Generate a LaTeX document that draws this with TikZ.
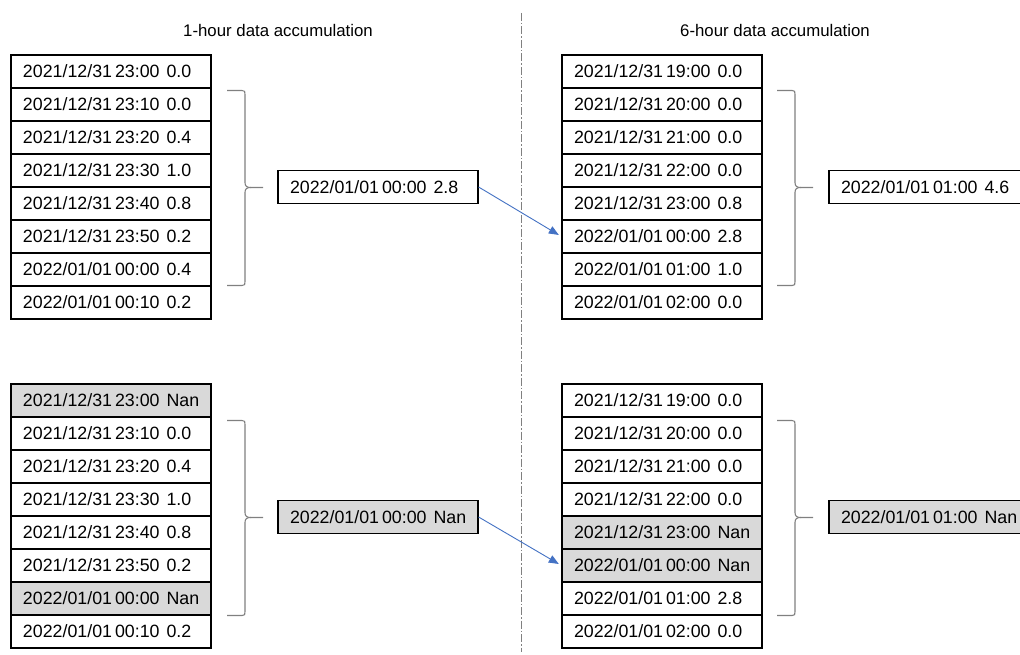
\documentclass[tikz,border=0pt]{standalone}
\usepackage{fontspec}
\setmainfont{Liberation Sans}
\usetikzlibrary{arrows.meta}
\definecolor{nangray}{HTML}{D9D9D9}
\definecolor{bracegray}{HTML}{808080}
\definecolor{arrowblue}{HTML}{4472C4}
\newcommand\dt[3]{\mbox{#1\hspace{3pt}#2\hspace{7pt}#3}}
\tikzset{
  cell/.style={draw=black, line width=1.2pt, minimum height=33pt, text width=176pt,
    inner xsep=12pt, inner ysep=0pt, align=left, font=\fontsize{17.8}{20}\selectfont},
  nan/.style={fill=nangray},
  title/.style={font=\fontsize{16.8}{20}\selectfont, inner sep=0pt},
  bracestyle/.style={draw=bracegray, line width=1.1pt},
  flow/.style={draw=arrowblue, line width=0.9pt, -{Triangle[length=10pt,width=8pt]}, shorten >=3pt},
  divider/.style={draw=bracegray, line width=1pt, dash pattern=on 8pt off 2pt on 1.5pt off 2pt}
}
\newcommand\mybrace[2]{%
  \begin{scope}[shift={(#1,#2)}]
    \draw[bracestyle] (0,-97) -- (15,-97) .. controls (18,-97) and (18,-96) .. (18,-93) -- (18,-5) .. controls (18,-1) and (20,0) .. (24,0) -- (36,0);
    \draw[bracestyle] (0,98) -- (15,98) .. controls (18,98) and (18,97) .. (18,94) -- (18,5) .. controls (18,1) and (20,0) .. (24,0);
  \end{scope}}
\begin{document}
\begin{tikzpicture}[x=1pt,y=-1pt]
\clip (0,0) rectangle (1020,655);
\fill[white] (0,0) rectangle (1020,655);

\node[title] (t1) at (278,30) {1-hour data accumulation};
\node[title] (t6) at (775,30) {6-hour data accumulation};

\draw[divider] (521,13) -- (521,652);

% top-left table
\foreach \i/\d/\t/\v in {1/2021\slash 12\slash 31/23:00/0.0, 2/2021\slash 12\slash 31/23:10/0.0, 3/2021\slash 12\slash 31/23:20/0.4, 4/2021\slash 12\slash 31/23:30/1.0, 5/2021\slash 12\slash 31/23:40/0.8, 6/2021\slash 12\slash 31/23:50/0.2, 7/2022\slash 01\slash 01/00:00/0.4, 8/2022\slash 01\slash 01/00:10/0.2}
  \node[cell] (tl-\i) at (111,{71.5+33*(\i-1)}) {\dt{\d}{\t}{\v}};

% top-right table
\foreach \i/\d/\t/\v in {1/2021\slash 12\slash 31/19:00/0.0, 2/2021\slash 12\slash 31/20:00/0.0, 3/2021\slash 12\slash 31/21:00/0.0, 4/2021\slash 12\slash 31/22:00/0.0, 5/2021\slash 12\slash 31/23:00/0.8, 6/2022\slash 01\slash 01/00:00/2.8, 7/2022\slash 01\slash 01/01:00/1.0, 8/2022\slash 01\slash 01/02:00/0.0}
  \node[cell] (tr-\i) at (662,{71.5+33*(\i-1)}) {\dt{\d}{\t}{\v}};

% bottom-left table
\foreach \i/\d/\t/\v/\s in {1/2021\slash 12\slash 31/23:00/Nan/nan, 2/2021\slash 12\slash 31/23:10/0.0/, 3/2021\slash 12\slash 31/23:20/0.4/, 4/2021\slash 12\slash 31/23:30/1.0/, 5/2021\slash 12\slash 31/23:40/0.8/, 6/2021\slash 12\slash 31/23:50/0.2/, 7/2022\slash 01\slash 01/00:00/Nan/nan, 8/2022\slash 01\slash 01/00:10/0.2/}
  \node[cell,\s] (bl-\i) at (111,{400.5+33*(\i-1)}) {\dt{\d}{\t}{\v}};

% bottom-right table
\foreach \i/\d/\t/\v/\s in {1/2021\slash 12\slash 31/19:00/0.0/, 2/2021\slash 12\slash 31/20:00/0.0/, 3/2021\slash 12\slash 31/21:00/0.0/, 4/2021\slash 12\slash 31/22:00/0.0/, 5/2021\slash 12\slash 31/23:00/Nan/nan, 6/2022\slash 01\slash 01/00:00/Nan/nan, 7/2022\slash 01\slash 01/01:00/2.8/, 8/2022\slash 01\slash 01/02:00/0.0/}
  \node[cell,\s] (br-\i) at (662,{400.5+33*(\i-1)}) {\dt{\d}{\t}{\v}};

% result boxes
\node[cell] (rtl) at (378,187) {\dt{2022/01/01}{00:00}{2.8}};
\node[cell] (rtr) at (929,187) {\dt{2022/01/01}{01:00}{4.6}};
\node[cell,nan] (rbl) at (378,517) {\dt{2022/01/01}{00:00}{Nan}};
\node[cell,nan] (rbr) at (929,517) {\dt{2022/01/01}{01:00}{Nan}};

% braces
\mybrace{227}{187.5}
\mybrace{777}{187.5}
\mybrace{227}{517.5}
\mybrace{777}{517.5}

% arrows
\draw[flow] (rtl.east) -- (tr-6.west);
\draw[flow] (rbl.east) -- (br-6.west);
\end{tikzpicture}
\end{document}
